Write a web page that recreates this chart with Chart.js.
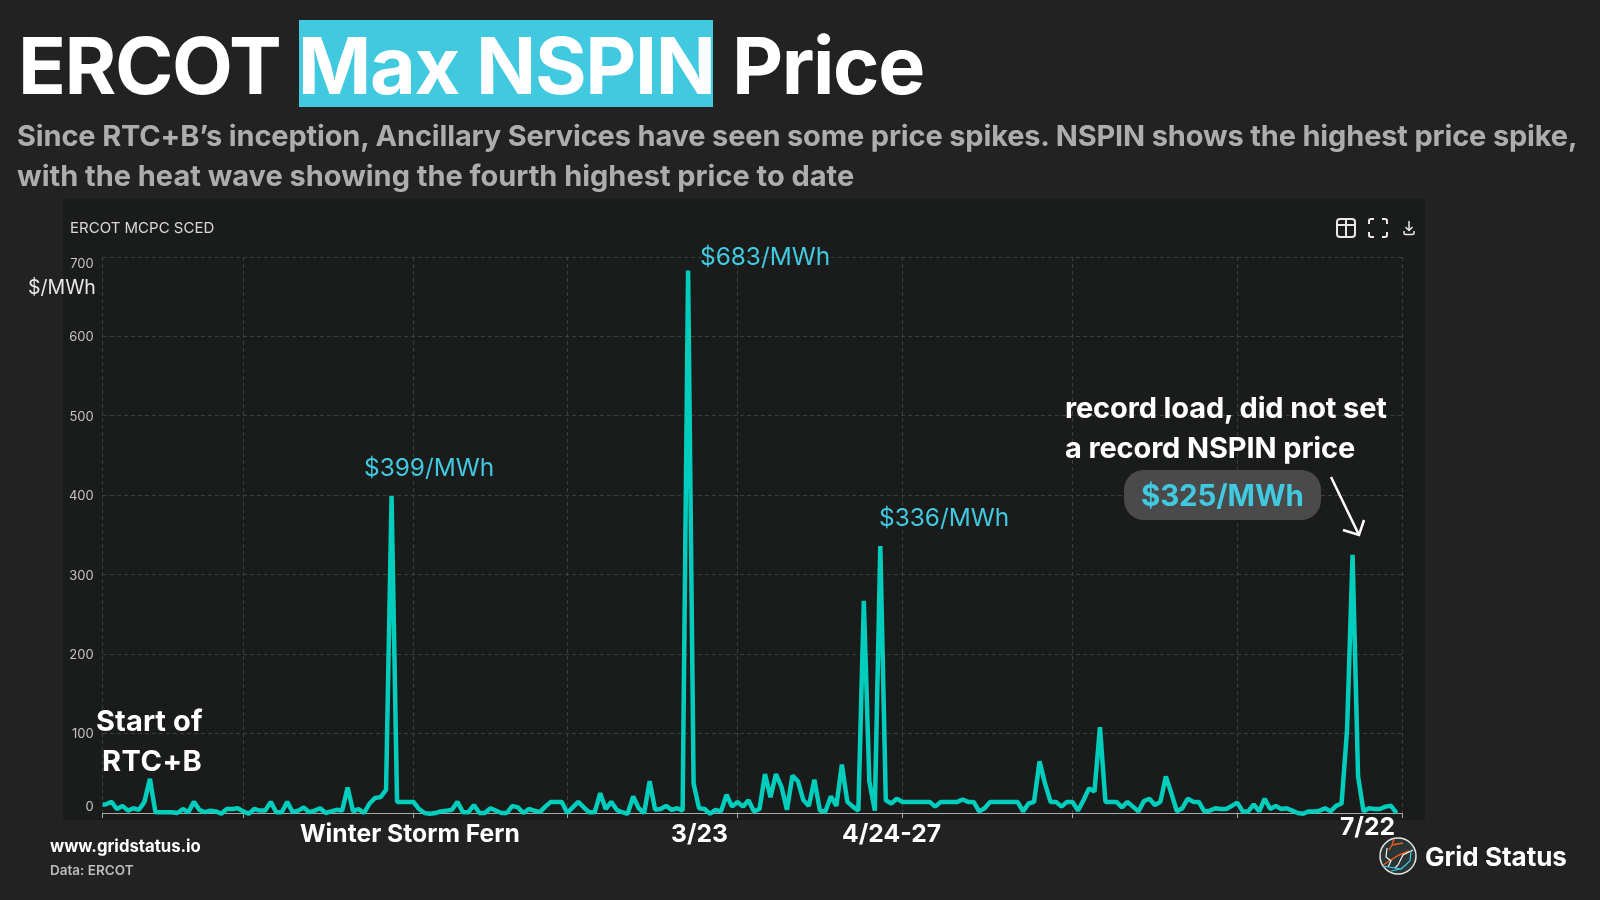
<!DOCTYPE html>
<html>
<head>
<meta charset="utf-8">
<title>ERCOT Max NSPIN Price</title>
<script src="https://cdn.jsdelivr.net/npm/chart.js@4"></script>
<style>
    html, body { margin: 0; width: 1600px; height: 900px; overflow: hidden; background: #222222; }
    body { position: relative; font-family: Inter, "Noto Sans", sans-serif; color: #ffffff; }
    #panel { position: absolute; left: 63px; top: 199px; width: 1362px; height: 621px; background: #1a1c1c; }
    #priceChart { position: absolute; left: 0; top: 0; }
    .t { position: absolute; white-space: nowrap; transform: translateY(-50%); line-height: 1.2; }
    .b { font-weight: 700; font-size: 29px; letter-spacing: -0.13px; }
    .m { font-size: 24.7px; letter-spacing: 0; }
    .price { color: #41c9e0; font-size: 24.4px; }
    svg { position: absolute; overflow: visible; }
</style>
</head>
<body>
<div style="position:absolute; left:299px; top:20px; width:414px; height:87px; background:#41c9e0;"></div>
<div id="panel"></div>
<canvas id="priceChart" width="1600" height="900"></canvas>

<div class="t" style="left:18px; top:65px; font-size:79px; font-weight:700; letter-spacing:-1.4px;">ERCOT Max NSPIN Price</div>
<div class="t" style="left:17px; top:136px; font-size:29px; font-weight:700; color:#adadad; letter-spacing:-0.16px;">Since RTC+B’s inception, Ancillary Services have seen some price spikes. NSPIN shows the highest price spike,</div>
<div class="t" style="left:17px; top:176px; font-size:29px; font-weight:700; color:#adadad; letter-spacing:-0.02px;">with the heat wave showing the fourth highest price to date</div>

<div class="t" style="left:70px; top:228px; font-size:15px; color:#d8d8d8;">ERCOT MCPC SCED</div>
<div class="t" style="left:28px; top:288px; font-size:19.5px; color:#e8e8e8;">$/MWh</div>

<div class="t price" style="left:700px; top:257px;">$683/MWh</div>
<div class="t price" style="left:364px; top:468px;">$399/MWh</div>
<div class="t price" style="left:879px; top:518px;">$336/MWh</div>

<div class="t b" style="left:1065px; top:408px;">record load, did not set</div>
<div class="t b" style="left:1065px; top:448px;">a record NSPIN price</div>
<div style="position:absolute; left:1124px; top:470px; width:197px; height:50px; border-radius:20px; background:#4a4a4a;"></div>
<div class="t b" style="left:1141px; top:496px; color:#41c9e0; font-size:29.5px;">$325/MWh</div>
<svg style="left:0; top:0;" width="1600" height="900">
    <path d="M1331 477 L1359 535 M1343 530 L1359 535 L1364 520" fill="none" stroke="#ffffff" stroke-width="2.5"/>
</svg>

<div class="t b" style="left:96px; top:721px; letter-spacing:0.1px;">Start of</div>
<div class="t b" style="left:102px; top:761px; letter-spacing:0.5px;">RTC+B</div>

<div class="t b m" style="left:300px; top:834px;">Winter Storm Fern</div>
<div class="t b m" style="left:671px; top:834px;">3/23</div>
<div class="t b m" style="left:842px; top:834px;">4/24-27</div>
<div class="t b m" style="left:1340px; top:827px;">7/22</div>

<div class="t" style="left:50px; top:846px; font-size:16.7px; font-weight:700;">www.gridstatus.io</div>
<div class="t" style="left:50px; top:870px; font-size:13.5px; font-weight:600; color:#bdbdbd;">Data: ERCOT</div>
<div class="t" style="left:1425px; top:857px; font-size:26px; font-weight:700;">Grid Status</div>

<!-- logo -->
<svg style="left:1379px; top:837px;" width="38" height="38" viewBox="0 0 38 38">
    <circle cx="19" cy="19" r="18" fill="#2a3636" stroke="#e6e6e6" stroke-width="1.5"/>
    <path d="M15 2 L13 8 L24 6 M13 8 L10 13 M30 14 L20 18 L4 28" fill="none" stroke="#f0591e" stroke-width="1.4"/>
    <path d="M8 11 L7 20 L12 24 L9 30 M34 13 L24 18 L19 28 L16 31" fill="none" stroke="#f2f2f2" stroke-width="1.2"/>
    <path d="M4 29 L22 32 L31 24 L32 14 M12 34 L22 32" fill="none" stroke="#41c9e0" stroke-width="1.2"/>
</svg>

<!-- table, fullscreen, download icons -->
<svg style="left:1336px; top:217px;" width="85" height="22" viewBox="0 0 85 22" fill="none" stroke="#e8e8e8" stroke-width="2">
    <rect x="1" y="2" width="18" height="18" rx="3"/>
    <path d="M1 8 H19 M10 2 V20"/>
    <path d="M33 7 V4 Q33 2 35 2 H38 M46 2 H49 Q51 2 51 4 V7 M51 15 V18 Q51 20 49 20 H46 M38 20 H35 Q33 20 33 18 V15"/>
    <path d="M73 4 V13 M69.5 10 L73 13.5 L76.5 10 M68 14 V16 Q68 17.5 70 17.5 H76 Q78 17.5 78 16 V14" stroke-width="1.5"/>
</svg>

<script>
// days counted from Jan 1 2026, first reading is early December
const firstDay = -26;

// daily max NSPIN price, $/MWh, by month
const decPrices = [10, 11, 14, 5, 9, 3, 6, 4, 14, 43, 1, 1, 1, 1, 0, 5, 1, 14, 4, 1, 3, 2, -1, 5, 5, 6];
const janPrices = [2, -1, 5, 3, 3, 14, 1, 1, 14, 1, 3, 7, 1, 3, 6, 0, 2, 4, 3, 32, 2, 5, 0, 12, 19, 20, 29, 399, 14, 14, 14];
const febPrices = [14, 5, 0, -1, 0, 2, 3, 4, 14, 1, 1, 10, 0, 0, 6, 3, 0, 0, 9, 7, 0, 5, 3, 1, 8, 14, 14, 14];
const marPrices = [0, 7, 14, 7, 1, 1, 25, 5, 14, 4, 1, -1, 21, 6, 0, 40, 4, 5, 9, 4, 6, 3, 683, 37, 6, 5, -1, 4, 2, 23, 8];
const aprPrices = [14, 8, 16, 2, 5, 49, 20, 49, 33, 4, 47, 40, 16, 9, 42, 3, 2, 21, 9, 61, 14, 8, 3, 267, 40, 3, 336, 16, 12, 18];
const mayPrices = [14, 14, 14, 14, 14, 14, 8, 14, 14, 14, 14, 17, 14, 14, 2, 6, 14, 14, 14, 14, 14, 14, 2, 12, 14, 65, 37, 14, 14, 8, 14];
const junPrices = [14, 3, 16, 31, 27, 108, 14, 14, 14, 7, 14, 8, 2, 15, 18, 10, 14, 46, 25, 2, 6, 18, 14, 14, 2, 3, 6, 5, 5, 9];
const julPrices = [13, 2, 2, 11, 2, 18, 5, 9, 5, 6, 3, 0, -1, 2, 2, 3, 6, 2, 9, 12, 105, 325, 46, 2, 6, 5, 5, 8, 9, 0];

// x axis edges and month starts, same day count
const xMin = -25.6;
const xMax = 211;
const monthTicks = [xMin, 0, 31, 59, 90, 120, 151, 181, xMax];
const priceTicks = [0, 100, 200, 300, 400, 500, 600, 700];

const prices = [].concat(decPrices, janPrices, febPrices, marPrices, aprPrices, mayPrices, junPrices, julPrices);
const points = prices.map((p, i) => ({ x: firstDay + i, y: p }));

const ctx = document.getElementById('priceChart').getContext('2d');
new Chart(ctx, {
    type: 'line',
    data: {
        datasets: [{
            label: 'NSPIN',
            data: points,
            borderColor: '#00cdbb',
            borderWidth: 4.5,
            borderJoinStyle: 'bevel',
            pointRadius: 0,
            tension: 0,
            fill: false,
            clip: { left: 0, right: 20, top: 20, bottom: 20 }
        }]
    },
    options: {
        responsive: false,
        animation: false,
        layout: { padding: { top: 257, right: 198 } },
        plugins: {
            legend: { display: false },
            title: { display: false },
            tooltip: { enabled: false }
        },
        scales: {
            x: {
                type: 'linear',
                min: xMin,
                max: xMax,
                afterFit: (scale) => { scale.height = 87; },
                afterBuildTicks: (scale) => { scale.ticks = monthTicks.map((v) => ({ value: v })); },
                ticks: { display: false },
                grid: { color: '#3c3e3e', tickColor: '#a8a8a8', tickLength: 5, tickBorderDash: [] },
                border: { color: '#a8a8a8', dash: [4, 3] }
            },
            y: {
                min: 0,
                max: 700,
                afterFit: (scale) => { scale.width = 102.7; },
                afterBuildTicks: (scale) => { scale.ticks = priceTicks.map((v) => ({ value: v })); },
                ticks: {
                    color: '#c4c4c4',
                    padding: 9,
                    labelOffset: 1,
                    font: { family: 'Inter', size: 13, lineHeight: 1 },
                    // end labels sit inside the plot, an empty line pushes them over
                    callback: (v) => v === 700 ? ['', '700'] : v === 0 ? ['0', ''] : String(v)
                },
                grid: { color: '#3c3e3e', drawTicks: false },
                border: { display: false, dash: [4, 3] }
            }
        }
    }
});
</script>
</body>
</html>
